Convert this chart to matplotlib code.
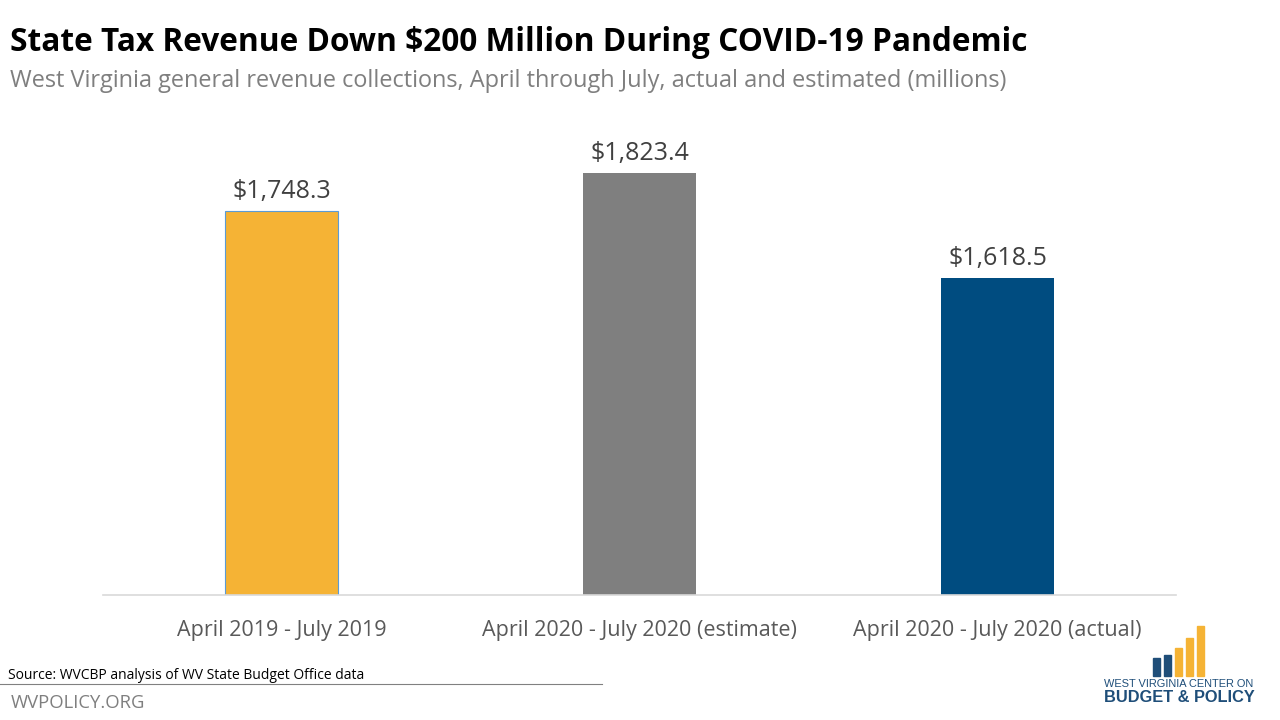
import matplotlib
matplotlib.use("Agg")
import matplotlib.pyplot as plt
from matplotlib.patches import Rectangle

# chart data
categories = ["April 2019 - July 2019", "April 2020 - July 2020 (estimate)", "April 2020 - July 2020 (actual)"]
revenue = [1748.3, 1823.4, 1618.5]
bar_colors = ["#F5B335", "#7F7F7F", "#004C80"]
value_labels = ["$1,748.3", "$1,823.4", "$1,618.5"]

plt.rcParams['font.family'] = ['Open Sans', 'DejaVu Sans']

fig = plt.figure(figsize=(12.8, 7.2), dpi=100)
fig.patch.set_facecolor("white")

# main axes, baseline at 1000 like the original
ax = fig.add_axes([0.0801, 0.1736, 0.839, 0.712])
x = range(len(categories))
bars = ax.bar(x, revenue, width=0.316, color=bar_colors, bottom=0)
bars[0].set_edgecolor("#5B9BD5")
bars[0].set_linewidth(0.8)
ax.set_xlim(-0.5, 2.5)
ax.set_ylim(1000, 2000)

for b, lab in zip(bars, value_labels):
    ax.text(b.get_x() + b.get_width() / 2, b.get_height() + 14, lab,
            ha="center", va="bottom", fontsize=18, color="#404040")

ax.set_xticks(list(x))
ax.set_xticklabels(categories, fontsize=15.5, color="#595959")
ax.tick_params(axis="x", length=0, pad=18)
ax.set_yticks([])
for s in ["top", "left", "right"]:
    ax.spines[s].set_visible(False)
ax.spines["bottom"].set_color("#D9D9D9")
ax.spines["bottom"].set_linewidth(1.2)

# titles
fig.text(0.008, 0.941, "State Tax Revenue Down $200 Million During COVID-19 Pandemic",
         fontsize=22.8, fontweight="bold", color="black", va="center")
fig.text(0.008, 0.888, "West Virginia general revenue collections, April through July, actual and estimated (millions)",
         fontsize=16.9, color="#7F7F7F", va="center")

# footer
fig.text(0.006, 0.062, "Source: WVCBP analysis of WV State Budget Office data",
         fontsize=10, color="black", va="center")
fig.add_artist(plt.Line2D([0, 0.47], [0.050, 0.050], color="#808080", lw=0.8))
fig.text(0.008, 0.024, "WVPOLICY.ORG", fontsize=13.3, color="#7F7F7F", va="center")

# logo
logo_bars = [(1153, 658, "#1F4E79"), (1164, 655, "#1F4E79"), (1175, 648, "#F5B335"),
             (1186, 638, "#F5B335"), (1197, 626, "#F5B335")]
for lx, top, c in logo_bars:
    fig.add_artist(Rectangle((lx / 1280, (720 - 676) / 720), 7 / 1280, (676 - top) / 720,
                             color=c, transform=fig.transFigure))
fig.text(1179 / 1280, (720 - 684) / 720, "WEST VIRGINIA CENTER ON", fontsize=7.9,
         color="#1F4E79", ha="center", va="center", family=["Liberation Sans"])
fig.text(1179 / 1280, (720 - 698) / 720, "BUDGET & POLICY", fontsize=11.8,
         color="#1F4E79", ha="center", va="center", fontweight="bold", family=["Liberation Sans"])

fig.savefig("out.png", dpi=100)
